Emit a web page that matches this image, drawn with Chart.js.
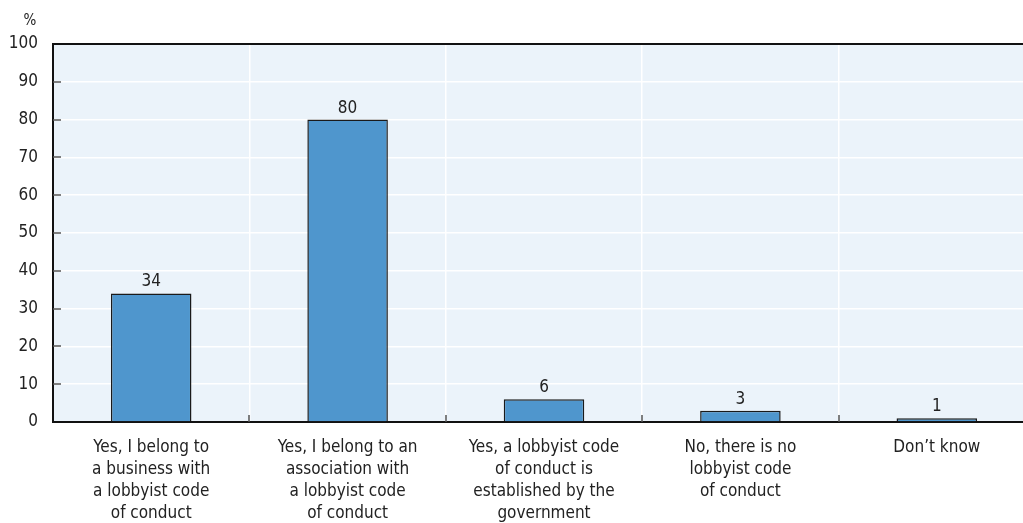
<!DOCTYPE html>
<html>
<head>
<meta charset="utf-8">
<script src="https://cdn.jsdelivr.net/npm/chart.js@4/dist/chart.umd.min.js"></script>
<style>
    html, body { margin: 0; padding: 0; overflow: hidden; background: #fff; }
    #wrap { width: 1035px; height: 523px; position: relative; }
</style>
</head>
<body>
<div id="wrap"><canvas id="chart"></canvas></div>
<script>
const categories = [
    ['Yes, I belong to', 'a business with', 'a lobbyist code', 'of conduct'],
    ['Yes, I belong to an', 'association with', 'a lobbyist code', 'of conduct'],
    ['Yes, a lobbyist code', 'of conduct is', 'established by the', 'government'],
    ['No, there is no', 'lobbyist code', 'of conduct'],
    ['Don\u2019t know']
];
const shares = [34, 80, 6, 3, 1];
const yTicks = [0, 10, 20, 30, 40, 50, 60, 70, 80, 90, 100];

const FONT = "'Liberation Sans Narrow', 'Arial Narrow', 'DejaVu Sans Condensed', sans-serif";

// plot background, inner tick marks, top border, value labels, unit
const decor = {
    id: 'decor',
    beforeDraw(chart) {
        const { ctx, chartArea: a } = chart;
        ctx.save();
        ctx.fillStyle = '#ebf3fa';
        ctx.fillRect(a.left, a.top, a.right - a.left, a.bottom - a.top);
        ctx.restore();
    },
    afterDraw(chart) {
        const { ctx, chartArea: a } = chart;
        const x = chart.scales.x;
        const y = chart.scales.y;
        ctx.save();
        ctx.strokeStyle = '#555';
        ctx.lineWidth = 1.5;
        yTicks.forEach(v => {
            if (v === 0 || v === 100) return;
            const py = Math.round(y.getPixelForValue(v));
            ctx.beginPath();
            ctx.moveTo(a.left, py);
            ctx.lineTo(a.left + 8, py);
            ctx.stroke();
        });
        for (let i = 1; i < categories.length; i++) {
            const px = Math.round((x.getPixelForValue(i - 1) + x.getPixelForValue(i)) / 2);
            ctx.beginPath();
            ctx.moveTo(px, a.bottom);
            ctx.lineTo(px, a.bottom - 7);
            ctx.stroke();
        }
        // top border
        ctx.strokeStyle = '#111';
        ctx.lineWidth = 2;
        ctx.beginPath();
        ctx.moveTo(a.left - 1, a.top);
        ctx.lineTo(a.right, a.top);
        ctx.stroke();

        ctx.fillStyle = '#222';
        ctx.font = '17px ' + FONT;
        ctx.textAlign = 'center';
        ctx.textBaseline = 'alphabetic';
        const meta = chart.getDatasetMeta(0);
        meta.data.forEach((bar, i) => {
            ctx.fillText(String(shares[i]), bar.x, bar.y - 7);
        });
        ctx.font = '15px ' + FONT;
        ctx.fillText('%', 30, 25);
        ctx.restore();
    }
};

new Chart(document.getElementById('chart'), {
    type: 'bar',
    data: {
        labels: categories,
        datasets: [{
            data: shares,
            backgroundColor: '#4f96cd',
            borderColor: '#1a1a1a',
            borderWidth: 1.5,
            barPercentage: 0.41,
            categoryPercentage: 1
        }]
    },
    options: {
        responsive: true,
        maintainAspectRatio: false,
        animation: false,
        layout: { padding: { top: 44, left: 0, right: 0, bottom: 0 } },
        plugins: {
            legend: { display: false },
            tooltip: { enabled: false }
        },
        scales: {
            x: {
                offset: true,
                grid: { offset: true, color: '#ffffff', lineWidth: 1.5, drawTicks: false },
                border: { color: '#111', width: 2 },
                ticks: {
                    color: '#222',
                    font: { family: FONT, size: 17, lineHeight: '22px' },
                    padding: 15,
                    maxRotation: 0,
                    autoSkip: false
                },
                afterFit(scale) { scale.height = 101; }
            },
            y: {
                min: 0,
                max: 100,
                afterBuildTicks(scale) { scale.ticks = yTicks.map(v => ({ value: v })); },
                grid: { color: '#ffffff', lineWidth: 1.5, drawTicks: false },
                border: { color: '#111', width: 2 },
                ticks: {
                    color: '#222',
                    font: { family: FONT, size: 17 },
                    padding: 15
                },
                afterFit(scale) { scale.width = 53; }
            }
        }
    },
    plugins: [decor]
});
</script>
</body>
</html>
